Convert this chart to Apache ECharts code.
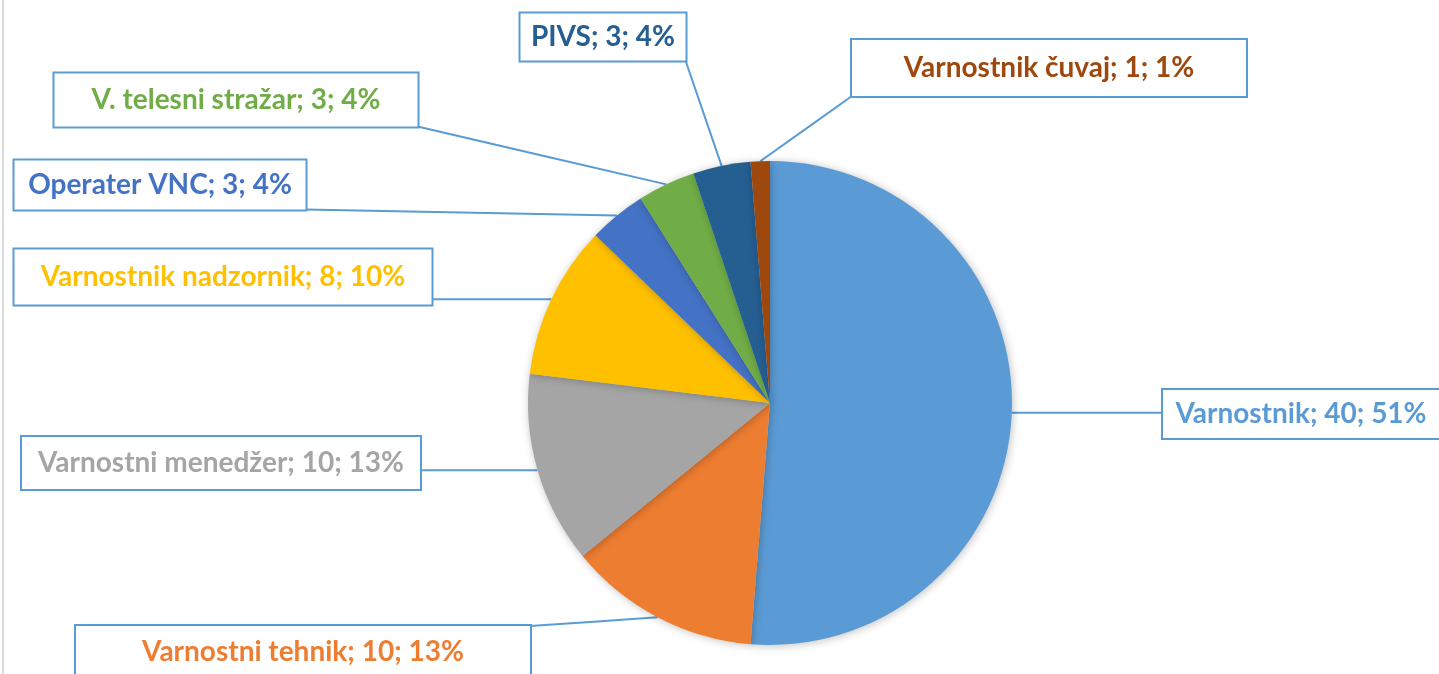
<!DOCTYPE html>
<html>
<head>
<meta charset="utf-8">
<script src="https://cdn.jsdelivr.net/npm/echarts@6/dist/echarts.min.js"></script>
<style>
  html, body { margin: 0; padding: 0; background: #fff; }
  #container { width: 1439px; height: 674px; }
</style>
</head>
<body>
<div id="container"></div>
<script>
// podatki
var names = ['Varnostnik', 'Varnostni tehnik', 'Varnostni menedžer', 'Varnostnik nadzornik',
  'Operater VNC', 'V. telesni stražar', 'PIVS', 'Varnostnik čuvaj'];
var values = [40, 10, 10, 8, 3, 3, 3, 1];
var percents = ['51%', '13%', '13%', '10%', '4%', '4%', '4%', '1%'];
var colors = ['#5B9BD5', '#ED7D31', '#A5A5A5', '#FFC000', '#4472C4', '#70AD47', '#255E91', '#9E480E'];

// položaji oznak (center x, center y, širina, višina)
var boxes = [
  [1301, 414, 276, 48],
  [303, 652, 454, 52],
  [221, 463, 398, 52],
  [223, 277, 417, 55],
  [160, 185, 291, 49],
  [236, 100, 363, 53],
  [603, 37, 165, 47],
  [1049, 68, 394, 56]
];

var chart = echarts.init(document.getElementById('container'));

var data = [];
for (var i = 0; i < names.length; i++) {
  data.push({
    name: names[i],
    value: values[i],
    itemStyle: { color: colors[i] },
    label: {
      color: colors[i],
      width: boxes[i][2],
      height: boxes[i][3],
      lineHeight: boxes[i][3]
    }
  });
}

// najbližja točka na robu okvirja
function nearestOnBox(p, b) {
  var x0 = b[0] - b[2] / 2, x1 = b[0] + b[2] / 2;
  var y0 = b[1] - b[3] / 2, y1 = b[1] + b[3] / 2;
  var x = Math.min(Math.max(p[0], x0), x1);
  var y = Math.min(Math.max(p[1], y0), y1);
  return [x, y];
}

var option = {
  backgroundColor: '#fff',
  animation: false,
  graphic: [{
    type: 'line',
    shape: { x1: 3, y1: 0, x2: 3, y2: 674 },
    style: { stroke: '#d9d9d9', lineWidth: 2 }
  }],
  series: [{
    type: 'pie',
    center: [770, 403],
    radius: 242,
    startAngle: 90,
    clockwise: true,
    avoidLabelOverlap: false,
    itemStyle: {
      shadowBlur: 8,
      shadowColor: 'rgba(0,0,0,0.25)',
      shadowOffsetX: 1,
      shadowOffsetY: 1
    },
    label: {
      show: true,
      formatter: function (p) {
        return p.name + '; ' + p.value + '; ' + percents[p.dataIndex];
      },
      fontFamily: 'Lato',
      fontWeight: 'bold',
      fontSize: 28,
      align: 'center',
      verticalAlign: 'middle',
      backgroundColor: '#fff',
      borderColor: '#5B9BD5',
      borderWidth: 2,
      padding: 0
    },
    labelLine: {
      show: true,
      length: 20,
      length2: 20,
      lineStyle: { color: '#5B9BD5', width: 2 }
    },
    labelLayout: function (params) {
      var b = boxes[params.dataIndex];
      var res = {
        x: b[0],
        y: b[1],
        align: 'center',
        verticalAlign: 'middle'
      };
      var pts = params.labelLinePoints;
      if (pts && pts.length) {
        var start = pts[0];
        var end = nearestOnBox(start, b);
        var mid = [(start[0] + end[0]) / 2, (start[1] + end[1]) / 2];
        res.labelLinePoints = [start, mid, end];
      }
      return res;
    },
    data: data
  }]
};

chart.setOption(option);
</script>
</body>
</html>
